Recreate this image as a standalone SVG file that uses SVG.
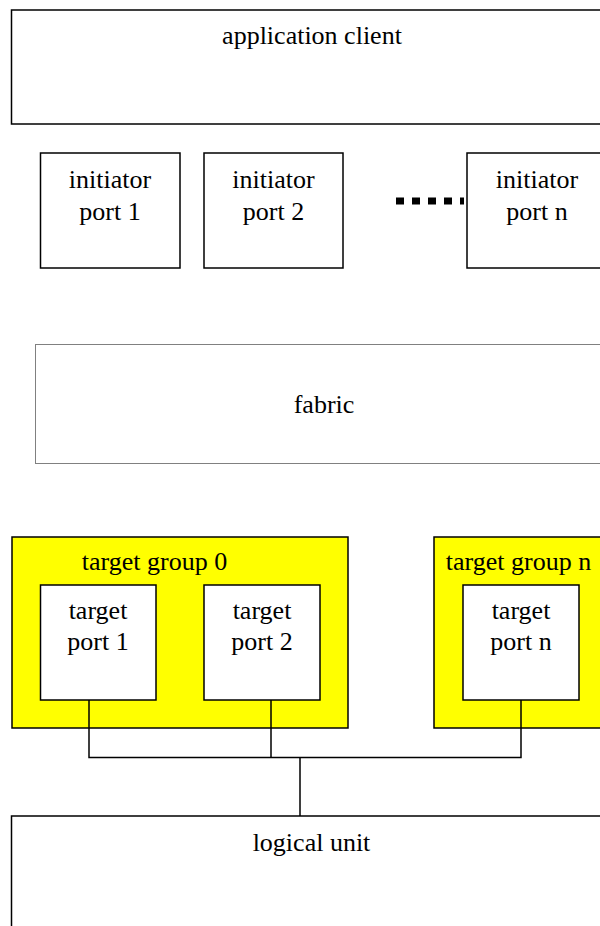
<svg xmlns="http://www.w3.org/2000/svg" width="600" height="926" viewBox="0 0 600 926">
<style>
  .box { fill: #ffffff; stroke: #000000; stroke-width: 1.5; }
  .grp { fill: #ffff00; stroke: #000000; stroke-width: 1.5; }
  .fab { fill: #ffffff; stroke: #000000; stroke-width: 1; stroke-dasharray: 1 1; }
  .lbl { font-family: "Liberation Serif", "Times New Roman", serif; font-size: 26px; fill: #000000; text-anchor: middle; }
  .conn { fill: none; stroke: #000000; stroke-width: 1.5; }
</style>
<rect x="0" y="0" width="600" height="926" fill="#ffffff"/>

<g id="application-client">
  <rect class="box" x="11.5" y="10" width="600" height="114"/>
  <text class="lbl" x="312" y="44">application client</text>
</g>

<g id="initiator-port-1">
  <rect class="box" x="40.5" y="153" width="139.5" height="115"/>
  <text class="lbl" x="110" y="188">initiator</text>
  <text class="lbl" x="110" y="220">port 1</text>
</g>
<g id="initiator-port-2">
  <rect class="box" x="204" y="153" width="139" height="115"/>
  <text class="lbl" x="273.5" y="188">initiator</text>
  <text class="lbl" x="273.5" y="220">port 2</text>
</g>
<g id="initiator-port-n">
  <rect class="box" x="467" y="153" width="150" height="115"/>
  <text class="lbl" x="537" y="188">initiator</text>
  <text class="lbl" x="537" y="220">port n</text>
</g>

<g id="fabric">
  <rect class="fab" x="35.5" y="344.5" width="580" height="119"/>
  <text class="lbl" x="324" y="413">fabric</text>
</g>

<g id="target-group-0">
  <rect class="grp" x="12" y="537" width="336" height="191"/>
  <text class="lbl" x="154.5" y="570">target group 0</text>
</g>
<g id="target-port-1">
  <rect class="box" x="40.5" y="585" width="115.5" height="115"/>
  <text class="lbl" x="98" y="619">target</text>
  <text class="lbl" x="98" y="650">port 1</text>
</g>
<g id="target-port-2">
  <rect class="box" x="204" y="585" width="116" height="115"/>
  <text class="lbl" x="262" y="619">target</text>
  <text class="lbl" x="262" y="650">port 2</text>
</g>
<g id="target-group-n">
  <rect class="grp" x="434" y="537" width="180" height="191"/>
  <text class="lbl" x="518.5" y="570">target group n</text>
</g>
<g id="target-port-n">
  <rect class="box" x="463" y="585" width="116" height="115"/>
  <text class="lbl" x="521" y="619">target</text>
  <text class="lbl" x="521" y="650">port n</text>
</g>

<g id="logical-unit">
  <rect class="box" x="11.5" y="816" width="600" height="120"/>
  <text class="lbl" x="311.5" y="851">logical unit</text>
</g>

<g id="connectors">
  <line x1="396" y1="201" x2="464" y2="201" stroke="#000000" stroke-width="7" stroke-dasharray="8 8"/>
  <path class="conn" d="M89 700 V757.5 H521 V700 M271 700 V757.5 M300 757.5 V816"/>
</g>
</svg>
